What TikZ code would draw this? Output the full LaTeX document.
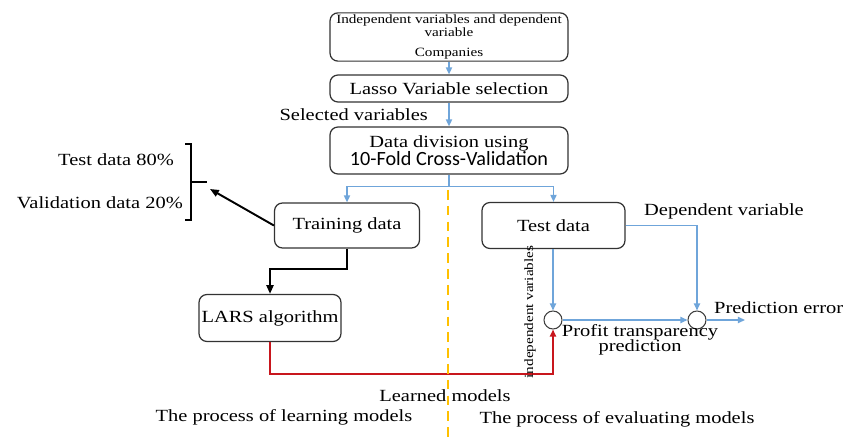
\documentclass[tikz,border=0pt]{standalone}
\usepackage{fontspec}
\setmainfont{Liberation Serif}[FakeStretch=1.2]
\newfontfamily\sansfold{Carlito}
\usetikzlibrary{arrows.meta}
\definecolor{flowblue}{HTML}{6FA5DA}
\definecolor{modelred}{HTML}{C8161D}
\definecolor{splitline}{HTML}{FFC000}
\tikzset{
  stagebox/.style={draw=black!80, line width=0.7pt, rounded corners=4.5pt, align=center, inner sep=1pt},
  junction/.style={draw=black!75, line width=0.6pt, circle, minimum size=0.36cm, inner sep=0pt},
  blueflow/.style={draw=flowblue, line width=0.8pt, -{Triangle[length=4pt,width=3.5pt]}},
  blackflow/.style={draw=black, line width=1.2pt, -{Triangle[length=5pt,width=4pt]}},
  redflow/.style={draw=modelred, line width=1.3pt, -{Triangle[length=4pt,width=3.5pt]}}
}
\begin{document}
\begin{tikzpicture}[x=0.02cm, y=-0.02cm, font=\fontsize{9.7}{11.5}\selectfont]
\useasboundingbox (0,0) rectangle (846,439);
\node[stagebox, minimum width=4.76cm, minimum height=0.92cm, font=\fontsize{7.2}{6.4}\selectfont] (source) at (449,37) {Independent variables and dependent\\variable\\[5pt]Companies};
\node[stagebox, minimum width=4.76cm, minimum height=0.54cm] (lasso) at (449,88.5) {Lasso Variable selection};
\node[stagebox, minimum width=4.76cm, minimum height=0.94cm, font=\fontsize{9.7}{10.5}\selectfont] (division) at (449,150.5) {Data division using\\{\sansfold\fontsize{11.5}{10.5}\selectfont 10-Fold Cross-Validation}};
\node[stagebox, minimum width=2.9cm, minimum height=0.9cm] (train) at (347,225.5) {Training data};
\node[stagebox, minimum width=2.86cm, minimum height=0.92cm] (test) at (553.5,225.5) {Test data};
\node[stagebox, minimum width=2.84cm, minimum height=0.94cm] (lars) at (270,318) {LARS algorithm};
\node[junction] (predict) at (553,320) {};
\node[junction] (error) at (697,320) {};
\coordinate (errorout) at (745,320);
\coordinate (bracetip) at (210,189);

\draw[blueflow] (source) -- (lasso);
\draw[blueflow] (lasso) -- (division);
\draw[blueflow] (division.south) -- ++(0,12) -| (train.north);
\draw[blueflow] (division.south) -- ++(0,12) -| (test.north);
\draw[blackflow] (train.south) -- ++(0,20) -| (lars.north);
\draw[redflow] (lars.south) -- ++(0,32) -| (predict.south);
\draw[blueflow] (predict.north |- test.south) -- (predict.north);
\draw[blueflow] (test.east) -| (error.north);
\draw[blueflow] (predict.east) -- (error.west);
\draw[blueflow] (error.east) -- (errorout);

\draw[line width=1pt] (185,144) -- (191,144) -- (191,220) -- (185,220);
\draw[line width=1pt] (191,182) -- (207,182);
\draw[black, line width=1.1pt, -{Triangle[length=5pt,width=4pt]}] (train.west) -- (bracetip);
\draw[splitline, line width=1.6pt, dash pattern=on 5.5pt off 3.5pt] (448,190) -- (448,439);

\node[anchor=east] (lbltest) at (180,160) {Test data 80\%};
\node[anchor=east] (lblvalid) at (189,203) {Validation data 20\%};
\node[anchor=east] (lblselected) at (434,115) {Selected variables};
\node[anchor=west] (lbldependent) at (638,211) {Dependent variable};
\node[anchor=west] (lblerror) at (708,308) {Prediction error};
\node[align=center, font=\fontsize{9.7}{8}\selectfont] (lblprofit) at (640,340) {Profit transparency\\[-1.5pt]prediction};
\node[rotate=90, font=\fontsize{7.2}{9}\selectfont] (lblindep) at (530,312) {independent variables};
\node (lbllearned) at (445,396) {Learned models};
\node (lbllearning) at (284,417) {The process of learning models};
\node (lblevaluating) at (617,419) {The process of evaluating models};
\end{tikzpicture}
\end{document}
